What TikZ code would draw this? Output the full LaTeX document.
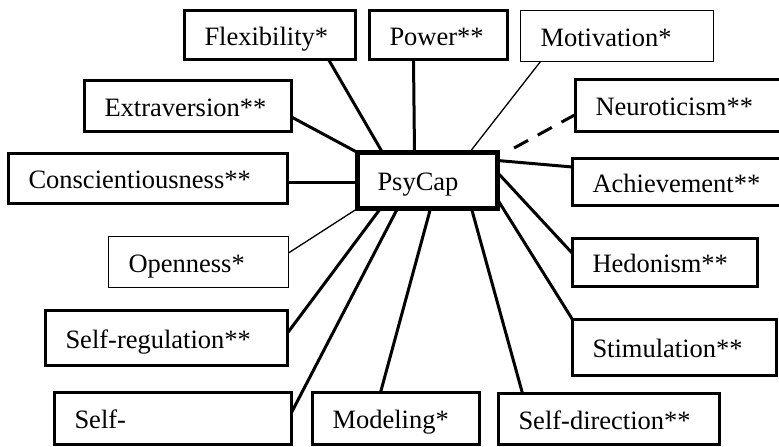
\documentclass[tikz,border=0pt]{standalone}
\usepackage{fontspec}
\setmainfont{Liberation Serif}
\usetikzlibrary{positioning}
\tikzset{
  pcbox/.style={draw,rectangle,anchor=north west,align=left,inner xsep=20pt,
    inner ysep=0pt,outer sep=0pt,text height=21pt,text depth=1pt,
    font=\fontsize{26.5}{30}\selectfont},
  pcthick/.style={pcbox,line width=3pt},
  pcthin/.style={pcbox,line width=1.2pt},
  pccore/.style={pcbox,line width=5pt},
  pclink/.style={line width=3pt},
  pcweak/.style={line width=1.3pt},
  pcdash/.style={line width=3pt,dash pattern=on 16pt off 11pt},
}
\begin{document}
\begin{tikzpicture}[x=1pt,y=-1pt]
\clip (0,0) rectangle (779,447);
% Centre node
\node[pccore,text width=100pt,minimum height=56pt] (psycap) at (357.5,152.5) {PsyCap};
% Top row
\node[pcthick,text width=131pt,minimum height=49pt] (flex) at (184.5,10.5) {Flexibility*};
\node[pcthick,text width=98pt,minimum height=49pt] (power) at (369.5,10.5) {Power**};
\node[pcthin,text width=153pt,minimum height=51pt] (motiv) at (520.5,10.5) {Motivation*};
% Left column
\node[pcthick,text width=167pt,minimum height=51pt] (extra) at (84.5,80.5) {Extraversion**};
\node[pcthick,text width=239pt,minimum height=50pt] (consc) at (8.5,153.5) {Conscientiousness**};
\node[pcthin,text width=140pt,minimum height=51pt] (open) at (108.5,236.5) {Openness*};
\node[pcthick,text width=202pt,minimum height=55pt] (selfreg) at (45.5,310.5) {Self-regulation**};
% Right column
\node[pcthick,text width=185pt,minimum height=52pt] (neuro) at (575.5,79.5) {Neuroticism**};
\node[pcthick,text width=188pt,minimum height=47pt] (achieve) at (572.5,158.5) {Achievement**};
\node[pcthick,text width=145pt,minimum height=48pt] (hedon) at (572.5,238.5) {Hedonism**};
\node[pcthick,text width=164pt,minimum height=56pt] (stim) at (572.5,319.5) {Stimulation**};
% Bottom row
\node[pcthick,text width=197pt,minimum height=52pt] (selfeff) at (54.5,392.5) {Self-};
\node[pcthick,text width=127pt,minimum height=52pt] (model) at (312.5,392.5) {Modeling*};
\node[pcthick,text width=181pt,minimum height=51pt] (selfdir) at (498.5,393.5) {Self-direction**};
% Links to PsyCap
\draw[pclink] ([xshift=-27pt]flex.south east) -- ([xshift=25pt]psycap.north west);
\draw[pclink] ([xshift=44pt]power.south west) -- ([xshift=57pt]psycap.north west);
\draw[pcweak] ([xshift=20pt]motiv.south west) -- ([xshift=-28pt]psycap.north east);
\draw[pcdash] ([yshift=-9pt]neuro.west) -- ([xshift=12pt,yshift=2pt]psycap.north east);
\draw[pclink] ([yshift=-8pt]psycap.north east) -- ([yshift=15pt]achieve.west);
\draw[pclink] ([yshift=8pt]psycap.east) -- ([yshift=9pt]hedon.west);
\draw[pclink] ([yshift=-19pt]psycap.east) -- (stim.north west);
\draw[pclink] ([yshift=-11pt]extra.east) -- (psycap.north west);
\draw[pclink] ([yshift=-4pt]consc.east) -- ([yshift=-4pt]consc.east -| psycap.west);
\draw[pcweak] ([yshift=9pt]open.east) -- (psycap.south west);
\draw[pclink] ([yshift=5pt]selfreg.east) -- ([xshift=23pt]psycap.south west);
\draw[pclink] ([yshift=-20pt]selfeff.north east) -- ([xshift=40pt]psycap.south west);
\draw[pclink] ([xshift=68pt]model.north west) -- ([xshift=73pt]psycap.south west);
\draw[pclink] ([xshift=24pt]selfdir.north west) -- ([xshift=-26pt]psycap.south east);
\end{tikzpicture}
\end{document}
